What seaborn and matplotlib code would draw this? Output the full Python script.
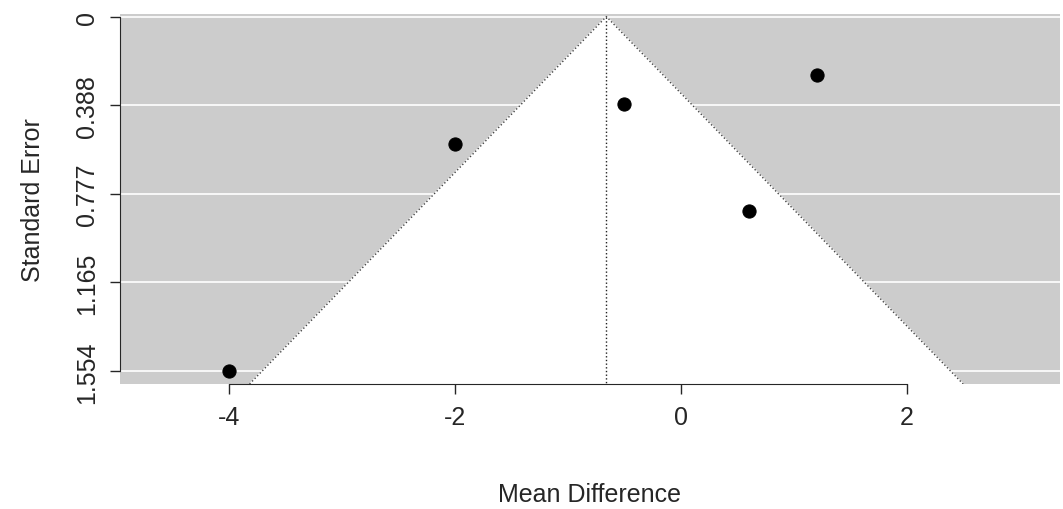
import numpy as np
import pandas as pd
import matplotlib
matplotlib.use("Agg")
import matplotlib.pyplot as plt
import seaborn as sns

# study effects (mean difference) and standard errors
mean_diff = [-4.0, -2.0, -0.5, 1.2, 0.6]
std_err = [1.554, 0.56, 0.385, 0.254, 0.85]
y_ticks = [0, 0.388, 0.777, 1.165, 1.554]
x_ticks = [-4, -2, 0, 2]
center = -0.66

sns.set_style("white")
plt.rcParams["font.family"] = ["Liberation Sans", "DejaVu Sans"]
plt.rcParams["axes.unicode_minus"] = False

fig = plt.figure(figsize=(10.63, 5.10), dpi=100)
ax = fig.add_axes([0.113, 0.245, 0.884, 0.725])

xlim = (-4.96, 3.35)
ylim = (1.61, -0.01)
ax.set_xlim(xlim)
ax.set_ylim(ylim)
ax.set_facecolor("#cccccc")

# white funnel region
se_bot = ylim[0]
ax.fill([center - 1.96 * se_bot, center, center + 1.96 * se_bot],
        [se_bot, 0, se_bot], color="white", zorder=1)
for t in y_ticks:
    ax.axhline(t, color="white", lw=1.2, zorder=0.5)
ax.plot([center - 1.96 * se_bot, center, center + 1.96 * se_bot],
        [se_bot, 0, se_bot], ls=":", color="#444444", lw=1, zorder=2)
ax.plot([center, center], [0, se_bot], ls=":", color="#222222", lw=1, zorder=2)

df = pd.DataFrame({"md": mean_diff, "se": std_err})
sns.scatterplot(data=df, x="md", y="se", ax=ax, color="black", s=90,
                edgecolor="black", zorder=3, clip_on=False)

for s in ["top", "right"]:
    ax.spines[s].set_visible(False)
ax.spines["left"].set_bounds(0, 1.554)
ax.spines["bottom"].set_bounds(-4, 2)
ax.set_xticks(x_ticks)
ax.set_yticks(y_ticks)
ax.set_yticklabels(["0", "0.388", "0.777", "1.165", "1.554"], rotation=90, va="center")
ax.tick_params(axis="both", length=7, width=1, labelsize=18, direction="out",
               left=True, bottom=True, pad=8)
ax.set_xlabel("Mean Difference", fontsize=18, labelpad=38)
ax.set_ylabel("Standard Error", fontsize=18, labelpad=22)

fig.savefig("out.png", dpi=100)
